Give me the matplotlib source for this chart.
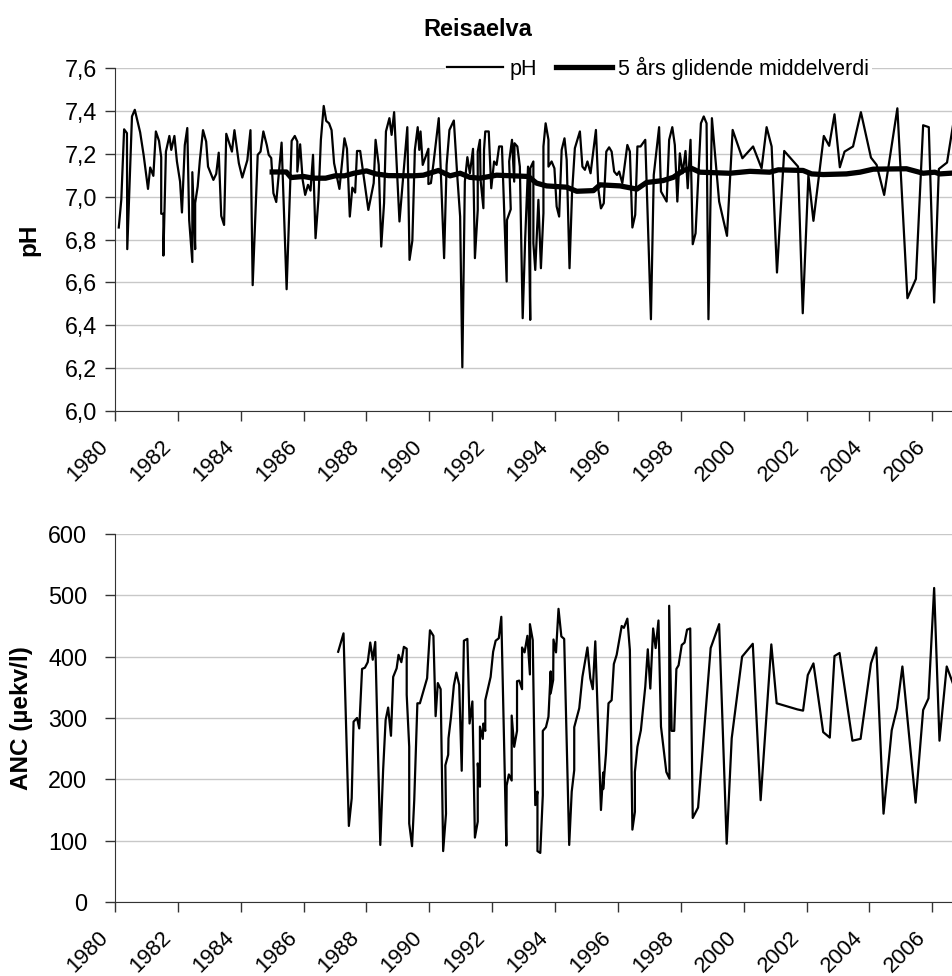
import matplotlib
matplotlib.use('Agg')
import matplotlib.pyplot as plt
from matplotlib.transforms import ScaledTranslation

plt.rcParams['font.family'] = ['Liberation Sans', 'DejaVu Sans']

# pH, maalt fra figuren
ph_year = [1980.12, 1980.20, 1980.29, 1980.38, 1980.39, 1980.54, 1980.63, 1980.80, 1980.91, 1981.05,
           1981.12, 1981.22, 1981.30, 1981.40, 1981.47, 1981.47, 1981.54, 1981.54, 1981.62, 1981.73,
           1981.79, 1981.89, 1981.97, 1982.07, 1982.13, 1982.22, 1982.30, 1982.36, 1982.46, 1982.46,
           1982.55, 1982.55, 1982.63, 1982.70, 1982.80, 1982.90, 1982.96, 1983.13, 1983.22, 1983.30,
           1983.38, 1983.47, 1983.54, 1983.72, 1983.80, 1983.94, 1984.05, 1984.21, 1984.31, 1984.38,
           1984.54, 1984.63, 1984.72, 1984.83, 1984.89, 1984.97, 1985.04, 1985.13, 1985.30, 1985.46,
           1985.62, 1985.72, 1985.80, 1985.80, 1985.89, 1985.97, 1986.05, 1986.14, 1986.22, 1986.30,
           1986.38, 1986.47, 1986.55, 1986.64, 1986.72, 1986.81, 1986.89, 1986.97, 1987.14, 1987.30,
           1987.38, 1987.47, 1987.55, 1987.64, 1987.70, 1987.80, 1987.97, 1988.06, 1988.23, 1988.29,
           1988.39, 1988.47, 1988.56, 1988.62, 1988.73, 1988.80, 1988.88, 1989.05, 1989.30, 1989.37,
           1989.46, 1989.54, 1989.63, 1989.68, 1989.72, 1989.79, 1989.97, 1989.97, 1990.05, 1990.13,
           1990.30, 1990.47, 1990.55, 1990.64, 1990.78, 1990.89, 1990.98, 1991.05, 1991.13, 1991.21,
           1991.29, 1991.39, 1991.45, 1991.54, 1991.54, 1991.61, 1991.63, 1991.72, 1991.74, 1991.78,
           1991.89, 1991.97, 1992.06, 1992.14, 1992.22, 1992.31, 1992.46, 1992.47, 1992.59, 1992.54,
           1992.63, 1992.70, 1992.71, 1992.80, 1992.88, 1992.97, 1993.05, 1993.14, 1993.21, 1993.21,
           1993.31, 1993.31, 1993.37, 1993.47, 1993.55, 1993.63, 1993.63, 1993.70, 1993.79, 1993.79,
           1993.89, 1993.98, 1994.05, 1994.13, 1994.21, 1994.30, 1994.37, 1994.46, 1994.54, 1994.63,
           1994.79, 1994.87, 1994.95, 1995.03, 1995.13, 1995.30, 1995.38, 1995.46, 1995.55, 1995.63,
           1995.72, 1995.80, 1995.88, 1995.97, 1996.04, 1996.14, 1996.30, 1996.38, 1996.46, 1996.55,
           1996.62, 1996.72, 1996.87, 1997.05, 1997.14, 1997.31, 1997.37, 1997.55, 1997.63, 1997.73,
           1997.81, 1997.89, 1997.97, 1998.06, 1998.15, 1998.22, 1998.31, 1998.38, 1998.47, 1998.64,
           1998.73, 1998.82, 1998.88, 1998.99, 1999.22, 1999.47, 1999.65, 1999.96, 2000.30, 2000.57,
           2000.73, 2000.89, 2001.06, 2001.29, 2001.73, 2001.88, 2002.06, 2002.22, 2002.55, 2002.72,
           2002.89, 2003.06, 2003.21, 2003.48, 2003.73, 2004.05, 2004.23, 2004.47, 2004.89, 2005.21,
           2005.48, 2005.71, 2005.89, 2006.06, 2006.21, 2006.47, 2006.67]
ph = [6.856, 6.985, 7.314, 7.296, 6.755, 7.374, 7.405, 7.300, 7.195, 7.036,
      7.136, 7.097, 7.304, 7.260, 7.184, 6.920, 6.920, 6.725, 7.210, 7.283,
      7.218, 7.283, 7.164, 7.070, 6.926, 7.240, 7.320, 6.890, 6.695, 7.114,
      6.755, 6.970, 7.047, 7.170, 7.310, 7.257, 7.140, 7.078, 7.106, 7.205,
      6.910, 6.868, 7.293, 7.210, 7.310, 7.156, 7.089, 7.170, 7.310, 6.587,
      7.195, 7.210, 7.304, 7.240, 7.195, 7.180, 7.016, 6.975, 7.252, 6.568,
      7.260, 7.283, 7.257, 7.117, 7.244, 7.078, 7.008, 7.055, 7.028, 7.195,
      6.806, 6.985, 7.265, 7.423, 7.353, 7.342, 7.310, 7.156, 7.036, 7.272,
      7.223, 6.907, 7.042, 7.019, 7.213, 7.213, 7.031, 6.938, 7.063, 7.265,
      7.148, 6.767, 6.970, 7.304, 7.366, 7.288, 7.394, 6.884, 7.324, 6.705,
      6.795, 7.218, 7.324, 7.218, 7.304, 7.148, 7.223, 7.059, 7.063, 7.153,
      7.366, 6.713, 7.148, 7.311, 7.355, 7.094, 6.907, 6.204, 7.070, 7.184,
      7.109, 7.223, 6.713, 6.938, 7.210, 7.265, 7.078, 6.946, 7.218, 7.304,
      7.304, 7.039, 7.164, 7.148, 7.234, 7.234, 6.604, 6.891, 6.941, 7.164,
      7.265, 7.070, 7.249, 7.234, 7.140, 6.433, 6.806, 7.140, 6.425, 7.132,
      7.164, 6.783, 6.658, 6.985, 6.666, 6.923, 7.234, 7.342, 7.265, 7.140,
      7.164, 7.132, 6.954, 6.907, 7.218, 7.272, 7.171, 6.666, 7.016, 7.226,
      7.304, 7.140, 7.125, 7.164, 7.109, 7.311, 7.031, 6.945, 6.969, 7.210,
      7.230, 7.210, 7.117, 7.101, 7.117, 7.063, 7.241, 7.210, 6.856, 6.915,
      7.234, 7.234, 7.265, 6.428, 7.101, 7.324, 7.024, 6.977, 7.265, 7.324,
      7.241, 6.977, 7.202, 7.109, 7.213, 7.039, 7.265, 6.778, 6.829, 7.342,
      7.374, 7.342, 6.428, 7.366, 6.977, 6.817, 7.311, 7.179, 7.234, 7.132,
      7.324, 7.234, 6.646, 7.213, 7.140, 6.456, 7.101, 6.887, 7.283, 7.237,
      7.384, 7.137, 7.210, 7.234, 7.394, 7.182, 7.148, 7.008, 7.412, 6.526,
      6.616, 7.333, 7.324, 6.506, 7.129, 7.159, 7.342]

# 5 aars glidende middelverdi
avg_year = [1985.00, 1985.30, 1985.45, 1985.60, 1986.00, 1986.30, 1986.70, 1987.00, 1987.30, 1987.60,
            1988.00, 1988.30, 1988.70, 1989.49, 1989.81, 1990.29, 1990.66, 1990.98, 1991.29, 1991.61,
            1992.14, 1992.67, 1993.15, 1993.41, 1993.73, 1994.37, 1994.69, 1995.22, 1995.43, 1996.07,
            1996.60, 1996.91, 1997.44, 1997.76, 1998.08, 1998.34, 1998.61, 1999.56, 2000.20, 2000.83,
            2001.10, 2001.89, 2002.16, 2002.53, 2003.27, 2003.70, 2004.12, 2005.18, 2005.71, 2006.08,
            2006.24, 2006.67]
avg = [7.115, 7.115, 7.115, 7.089, 7.094, 7.086, 7.086, 7.097, 7.097, 7.109,
       7.120, 7.106, 7.098, 7.097, 7.100, 7.122, 7.097, 7.109, 7.090, 7.086,
       7.100, 7.097, 7.094, 7.063, 7.050, 7.044, 7.025, 7.028, 7.055, 7.050,
       7.035, 7.066, 7.075, 7.090, 7.122, 7.132, 7.114, 7.109, 7.118, 7.114,
       7.125, 7.122, 7.106, 7.103, 7.106, 7.114, 7.128, 7.130, 7.109, 7.114,
       7.106, 7.110]

# ANC
anc_year = [1987.10, 1987.27, 1987.44, 1987.53, 1987.59, 1987.70, 1987.77, 1987.86, 1987.95, 1988.04,
            1988.12, 1988.20, 1988.28, 1988.44, 1988.53, 1988.61, 1988.69, 1988.78, 1988.85, 1988.96,
            1989.02, 1989.11, 1989.19, 1989.28, 1989.28, 1989.36, 1989.36, 1989.45, 1989.52, 1989.62,
            1989.70, 1989.93, 1989.95, 1990.02, 1990.13, 1990.20, 1990.27, 1990.36, 1990.44, 1990.53,
            1990.51, 1990.60, 1990.61, 1990.69, 1990.78, 1990.86, 1990.95, 1991.03, 1991.10, 1991.21,
            1991.28, 1991.37, 1991.45, 1991.54, 1991.54, 1991.61, 1991.61, 1991.70, 1991.72, 1991.78,
            1991.78, 1991.95, 1992.03, 1992.11, 1992.21, 1992.29, 1992.45, 1992.46, 1992.53, 1992.62,
            1992.62, 1992.70, 1992.79, 1992.79, 1992.86, 1992.95, 1992.95, 1993.03, 1993.12, 1993.20,
            1993.20, 1993.29, 1993.37, 1993.44, 1993.44, 1993.53, 1993.61, 1993.61, 1993.71, 1993.79,
            1993.86, 1993.86, 1993.94, 1993.95, 1994.03, 1994.11, 1994.20, 1994.29, 1994.45, 1994.53,
            1994.61, 1994.61, 1994.77, 1994.87, 1995.03, 1995.12, 1995.20, 1995.28, 1995.46, 1995.53,
            1995.53, 1995.62, 1995.70, 1995.80, 1995.87, 1995.96, 1996.12, 1996.19, 1996.30, 1996.38,
            1996.46, 1996.54, 1996.54, 1996.62, 1996.73, 1996.87, 1996.95, 1997.03, 1997.12, 1997.20,
            1997.29, 1997.37, 1997.54, 1997.64, 1997.63, 1997.71, 1997.79, 1997.86, 1997.93, 1998.03,
            1998.12, 1998.20, 1998.30, 1998.38, 1998.55, 1998.95, 1999.22, 1999.46, 1999.62, 1999.95,
            2000.29, 2000.54, 2000.88, 2001.05, 2001.71, 2001.89, 2002.04, 2002.22, 2002.53, 2002.74,
            2002.89, 2003.05, 2003.46, 2003.72, 2004.05, 2004.22, 2004.45, 2004.71, 2004.88, 2005.05,
            2005.47, 2005.71, 2005.88, 2006.06, 2006.23, 2006.46, 2006.66]
anc = [408, 438, 124, 169, 294, 300, 283, 380, 382, 391,
       423, 395, 424, 93, 215, 297, 317, 271, 367, 381,
       403, 391, 416, 413, 338, 253, 128, 91, 166, 324,
       324, 365, 384, 443, 434, 303, 357, 347, 83, 144,
       223, 240, 267, 302, 353, 374, 354, 214, 426, 429,
       291, 327, 105, 131, 226, 188, 286, 266, 291, 279,
       329, 367, 408, 426, 430, 465, 92, 190, 208, 198,
       304, 253, 279, 360, 361, 347, 415, 407, 434, 371,
       453, 427, 158, 180, 83, 80, 174, 279, 285, 302,
       376, 340, 362, 428, 407, 478, 433, 429, 93, 180,
       215, 285, 316, 367, 415, 365, 347, 425, 150, 211,
       184, 242, 324, 329, 388, 403, 450, 447, 462, 411,
       118, 147, 212, 253, 280, 351, 412, 348, 446, 414,
       459, 286, 212, 201, 483, 279, 279, 380, 386, 419,
       423, 444, 446, 137, 154, 414, 453, 95, 267, 400,
       421, 166, 420, 324, 314, 312, 370, 389, 277, 268,
       401, 406, 263, 266, 389, 415, 144, 280, 316, 384,
       162, 313, 332, 512, 263, 384, 356]

year_ticks = list(range(1980, 2007, 2))
ph_ticks = [6.0, 6.2, 6.4, 6.6, 6.8, 7.0, 7.2, 7.4, 7.6]
ph_labels = ['6,0', '6,2', '6,4', '6,6', '6,8', '7,0', '7,2', '7,4', '7,6']
anc_ticks = [0, 100, 200, 300, 400, 500, 600]

W, H = 953, 976
fig = plt.figure(figsize=(W / 100, H / 100), dpi=100)
ax1 = fig.add_axes([115 / W, 1 - 411 / H, (W - 115) / W, 343 / H])
ax2 = fig.add_axes([115 / W, 1 - 902 / H, (W - 115) / W, 368 / H])


def style_axis(ax, ypad):
    ax.set_xlim(1980, 2006.66)
    ax.set_xticks(year_ticks)
    ax.set_xticklabels(year_ticks, rotation=45, ha='right', rotation_mode='anchor')
    ax.spines['top'].set_visible(False)
    ax.spines['right'].set_visible(False)
    ax.spines['left'].set_color('#333333')
    ax.spines['bottom'].set_color('#333333')
    ax.grid(True, axis='y', color='#c8c8c8', linewidth=1)
    ax.set_axisbelow(True)
    ax.tick_params(axis='y', labelsize=16.8, length=7, width=1, color='#333333', pad=ypad)
    ax.tick_params(axis='x', labelsize=15.8, length=7, width=1, color='#333333', pad=11)
    # aarstallene staar litt til venstre for tick
    shift = ScaledTranslation(-12.5 / 72, 0, fig.dpi_scale_trans)
    for lab in ax.get_xticklabels():
        lab.set_transform(lab.get_transform() + shift)


ax1.plot(ph_year, ph, color='black', linewidth=1.6, label='pH')
ax1.plot(avg_year, avg, color='black', linewidth=3.8, label='5 års glidende middelverdi')
ax1.set_ylim(6.0, 7.6)
ax1.set_yticks(ph_ticks)
ax1.set_yticklabels(ph_labels)
style_axis(ax1, 6)
ax1.set_ylabel('pH', fontsize=17.5, fontweight='bold')
ax1.yaxis.set_label_coords(-0.0895, 0.5)
ax1.set_title('Reisaelva', fontsize=17, fontweight='bold', x=0.433, pad=23)
leg = ax1.legend(loc='center', bbox_to_anchor=(0.648, 1.0), ncol=2, fontsize=15.5, frameon=True,
                 framealpha=1, facecolor='white', edgecolor='none', fancybox=False,
                 handlelength=2.6, handletextpad=0.3, columnspacing=0.9, borderpad=0.1)

ax2.plot(anc_year, anc, color='black', linewidth=1.6)
ax2.set_ylim(0, 600)
ax2.set_yticks(anc_ticks)
style_axis(ax2, 13)
ax2.set_ylabel('ANC (µekv/l)', fontsize=17.5, fontweight='bold')
ax2.yaxis.set_label_coords(-0.0975, 0.5)

fig.savefig('out.png', dpi=100)
